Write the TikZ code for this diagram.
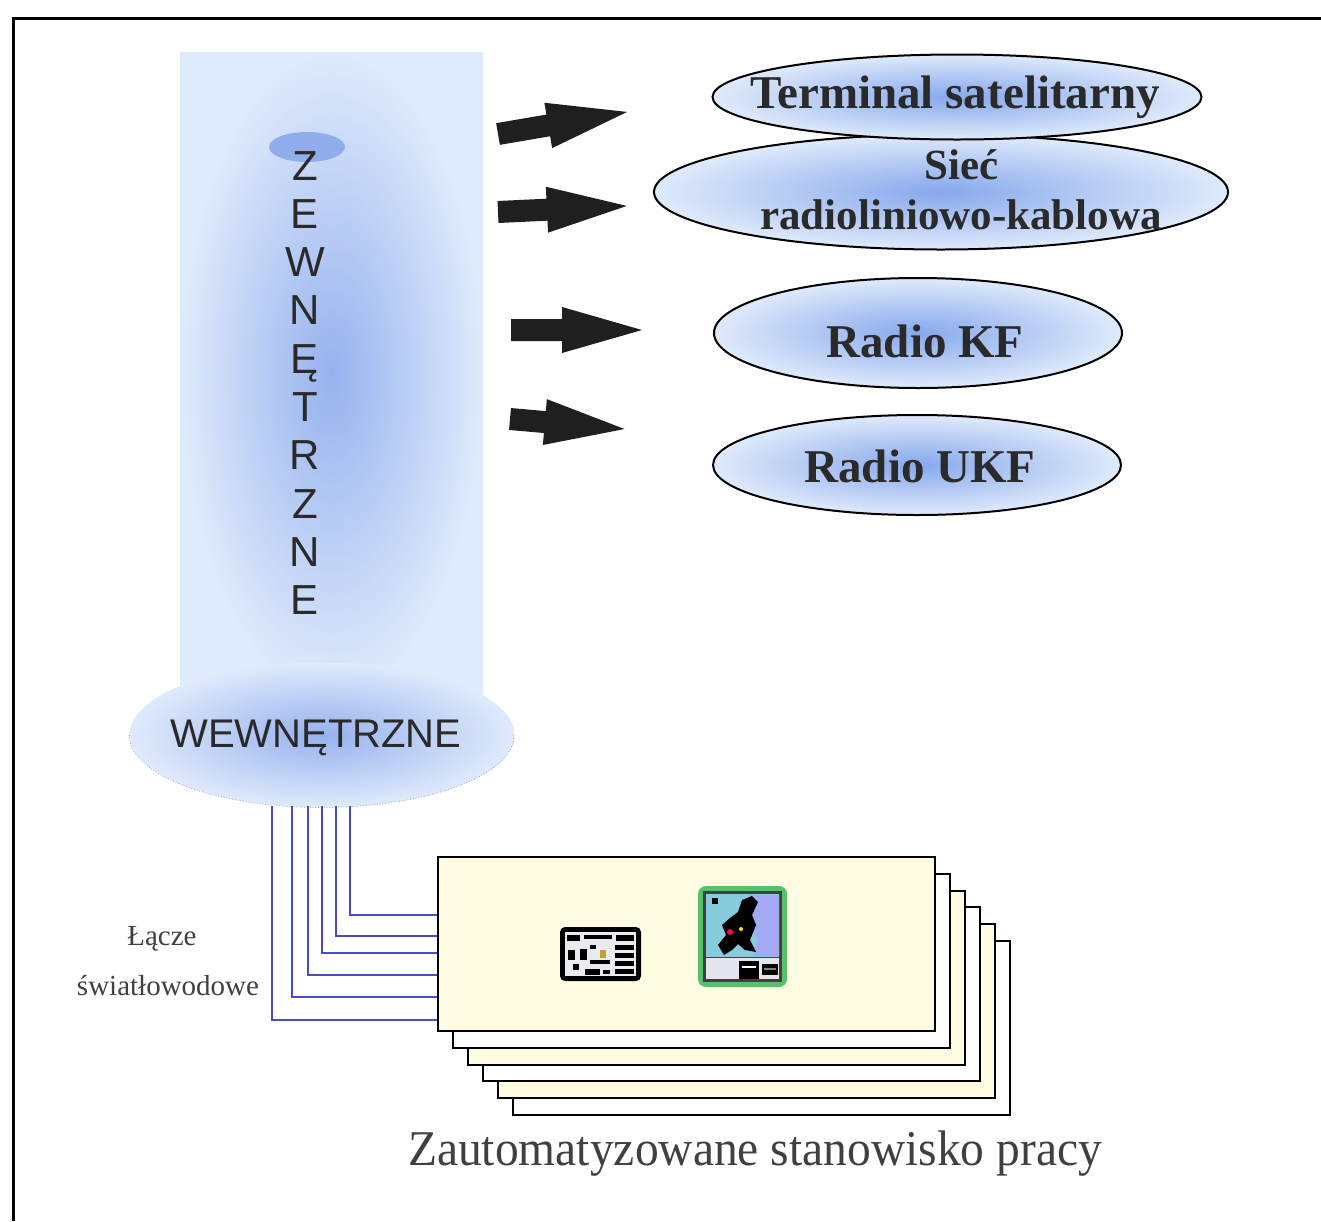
\documentclass[tikz,border=0pt]{standalone}
\usepackage{fontspec}
\setmainfont{Liberation Serif}
\newfontfamily\arial{Liberation Sans}
\usetikzlibrary{shapes.geometric}

\definecolor{paleblue}{HTML}{DFEAFB}
\definecolor{midblue}{HTML}{86A8EC}
\definecolor{colblue}{HTML}{96B2EE}
\definecolor{dotblue}{HTML}{8FAEEB}
\definecolor{fibre}{HTML}{4B4BC8}
\definecolor{cream}{HTML}{FEFDE3}
\definecolor{inkgray}{HTML}{2A2A2A}
\definecolor{labelgray}{HTML}{404040}
\definecolor{iconGreen}{HTML}{57C06A}
\definecolor{mapSea}{HTML}{86CCDC}
\definecolor{mapEast}{HTML}{A3A9F2}
\definecolor{panelGray}{HTML}{E4E6EE}
\definecolor{boardGray}{HTML}{E9ECEE}
\definecolor{chipGold}{HTML}{C8A030}

\tikzset{
  ell/.style={ellipse, draw=black, line width=1pt, inner sep=0,
    inner color=midblue, outer color=paleblue},
  elltext/.style={font=\bfseries\fontsize{23.5}{23.5}\selectfont, text=inkgray,
    inner sep=0, anchor=base},
  vlet/.style={font=\arial\fontsize{21}{21}\selectfont, text=inkgray,
    inner sep=0, anchor=base},
  card/.style={rectangle, draw=black, line width=1pt, inner sep=0,
    minimum width=248.5pt, minimum height=87pt, anchor=north west},
  fiber/.style={draw=fibre, line width=0.8pt},
  arrowfill/.style={fill=black!88},
  pics/blockarrow/.style={code={
    \fill[arrowfill] (0,-11) -- ({#1-80},-11) -- ({#1-80},-23) -- (#1,0)
      -- ({#1-80},23) -- ({#1-80},11) -- (0,11) -- cycle;}},
  smalllabel/.style={font=\fontsize{14.5}{14.5}\selectfont, text=labelgray,
    inner sep=0, anchor=base},
}

\begin{document}
\begin{tikzpicture}[x=0.5pt,y=-0.5pt]
\useasboundingbox (0,0) rectangle (1321,1221);
\fill[white] (0,0) rectangle (1321,1221);

% outer frame (left and top edges)
\draw[line width=1.5pt] (13,1221) -- (13,18) -- (1321,18);

% external column
\node[rectangle, inner sep=0, minimum width=151.5pt, minimum height=322pt,
  inner color=colblue, outer color=paleblue] (zew) at (331.5,374) {};
\node[ellipse, fill=dotblue, inner sep=0, minimum width=38pt,
  minimum height=15pt] (cap) at (307,147) {};
\foreach \ch [count=\i from 0] in {Z,E,W,N,Ę,T,R,Z,N,E}
  \node[vlet] (z\i) at (305,{180+48.3*\i}) {\ch};

% internal part
\node[ellipse, inner sep=0, minimum width=192.5pt, minimum height=72.5pt,
  inner color=colblue, outer color=paleblue] (wew) at (322,735) {};
\draw[fibre!55, line width=0.4pt, densely dotted]
  (wew.west) arc[start angle=180, end angle=0, x radius=192.5, y radius=72.5];
\node[vlet, font=\arial\fontsize{20}{20}\selectfont] (wewtxt) at (316,747) {WEWNĘTRZNE};

% block arrows
\pic[rotate=9.7] at (498,134) {blockarrow=131};
\pic[rotate=2.7] at (498,212) {blockarrow=129};
\pic at (511,330) {blockarrow=131};
\pic[rotate=-5] at (510,419) {blockarrow=115};

% external links
\node[ell, minimum width=287pt, minimum height=57.5pt] (siec) at (941,192) {};
\node[ell, minimum width=244.5pt, minimum height=42.5pt] (term) at (957,97) {};
\node[ell, minimum width=204pt, minimum height=55pt] (kf) at (918,333) {};
\node[ell, minimum width=204pt, minimum height=50pt] (ukf) at (917,465) {};

\node[elltext] (termtxt) at (955,108) {Terminal satelitarny};
\node[elltext, font=\bfseries\fontsize{21.5}{21.5}\selectfont] (siectxt) at (962,179) {Sieć};
\node[elltext, font=\bfseries\fontsize{21.5}{21.5}\selectfont] (kabtxt) at (961,229) {radioliniowo-kablowa};
\node[elltext] (kftxt) at (925,357) {Radio KF};
\node[elltext] (ukftxt) at (920,482) {Radio UKF};

% workstation stack
\node[card, fill=white] (c5) at (512,940) {};
\node[card, fill=cream] (c4) at (497,923.2) {};
\node[card, fill=white] (c3) at (482,906.4) {};
\node[card, fill=cream] (c2) at (467,889.6) {};
\node[card, fill=white] (c1) at (452,872.8) {};
\node[card, fill=cream] (c0) at (437,856) {};

% fibre links
\foreach \x/\y [count=\k] in {272/1020, 292/997, 308/975, 322/953, 336/936, 350/915} {
  \coordinate (f\k) at (\x,806);
  \coordinate (g\k) at (437,\y);
  \draw[fiber] (f\k) |- (g\k);
}

% board icon
\fill[black, rounded corners=2.5pt] (560,927) rectangle (641,981);
\fill[boardGray] (565,932) rectangle (636,976);
\fill[black] (567,935) rectangle (580,941);
\fill[black] (584,935) rectangle (612,939);
\fill[black] (616,935) rectangle (634,941);
\foreach \yy in {945,953,961,969}
  \fill[black] (615,\yy) rectangle (634,{\yy+5});
\fill[black] (568,950) rectangle (575,960);
\fill[black] (580,949) rectangle (587,960);
\fill[black] (573,964) rectangle (579,970);
\fill[black] (590,945) rectangle (596,949);
\fill[chipGold] (600,950) rectangle (606,958);
\fill[black] (590,960) rectangle (610,964);
\fill[black] (585,969) rectangle (600,975);
\fill[black] (603,970) rectangle (610,974);

% map icon
\fill[iconGreen, rounded corners=4pt] (698,886) rectangle (787,987);
\fill[black!75] (703,891) rectangle (782,982);
\fill[mapSea] (706,894) rectangle (779,957);
\fill[mapEast] (748,895) -- (779,895) -- (779,956) -- (752,956) -- (758,940)
  -- (750,925) -- cycle;
\fill[black] (724,955) -- (718,945) -- (726,935) -- (722,925) -- (730,918)
  -- (738,912) -- (742,900) -- (752,896) -- (758,902) -- (752,915) -- (756,925)
  -- (750,940) -- (756,952) -- (745,950) -- (738,944) -- (732,950) -- cycle;
\fill[black] (712,898) rectangle (718,904);
\fill[red!70!magenta] (730,932) circle[radius=3];
\fill[yellow!85!orange] (741,929) circle[radius=2];
\fill[panelGray] (706,958) rectangle (779,979);
\fill[black] (739,961) rectangle (759,979);
\fill[white] (742,966) rectangle (756,968);
\fill[black] (762,964) rectangle (778,975);
\fill[gray] (764,968) rectangle (776,970);

% labels
\node[smalllabel] (lacze) at (162,945) {Łącze};
\node[smalllabel] (swiatlo) at (168,995) {światłowodowe};
\node[inner sep=0, anchor=base, text=labelgray, xscale=0.95,
  font=\fontsize{25}{25}\selectfont] (caption) at (755,1165) {Zautomatyzowane stanowisko pracy};
\end{tikzpicture}
\end{document}
